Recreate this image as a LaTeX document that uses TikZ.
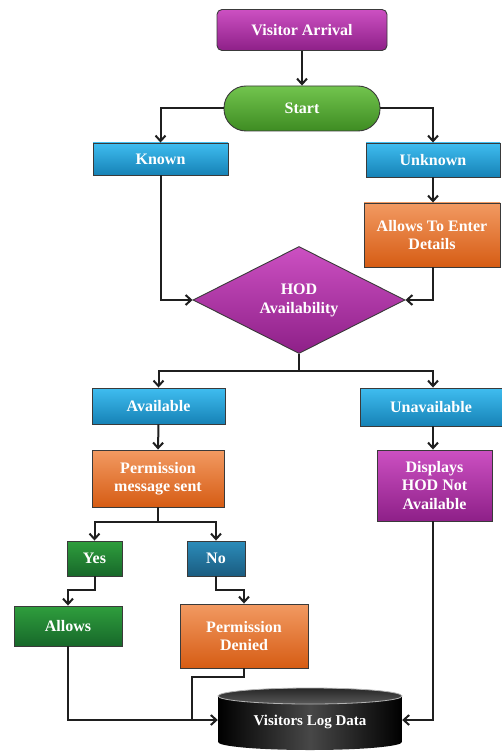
\documentclass[tikz,border=0pt]{standalone}
\usepackage{fontspec}
\setmainfont{Liberation Serif}
\usetikzlibrary{shapes.geometric,arrows.meta}
\definecolor{pTop}{HTML}{CC50C2}\definecolor{pBot}{HTML}{8E2088}
\definecolor{gTop}{HTML}{72C44E}\definecolor{gBot}{HTML}{3E8C22}
\definecolor{bTop}{HTML}{3FBDF0}\definecolor{bBot}{HTML}{1682B6}
\definecolor{oTop}{HTML}{F29A62}\definecolor{oBot}{HTML}{D65C14}
\definecolor{dgTop}{HTML}{2F9E3D}\definecolor{dgBot}{HTML}{17682A}
\definecolor{dbTop}{HTML}{2C8CBA}\definecolor{dbBot}{HTML}{1A5C80}
\definecolor{edge}{HTML}{3A3A3A}
\tikzset{
  box/.style={draw=edge, line width=0.9pt, text=white, align=center, inner sep=0pt,
    font=\fontsize{16}{18.5}\selectfont\bfseries},
  purplebox/.style={box, top color=pTop, bottom color=pBot},
  greenbox/.style={box, top color=gTop, bottom color=gBot},
  bluebox/.style={box, top color=bTop, bottom color=bBot},
  orangebox/.style={box, top color=oTop, bottom color=oBot},
  dgreenbox/.style={box, top color=dgTop, bottom color=dgBot},
  dbluebox/.style={box, top color=dbTop, bottom color=dbBot},
  link/.style={draw=black!88, line width=2pt},
  arr/.style={link, -{Straight Barb[length=5.5pt,width=10pt,line width=2pt]}},
}
\begin{document}
\begin{tikzpicture}[x=1pt,y=-1pt]
\useasboundingbox (0,0) rectangle (501,751);
% nodes
\node[purplebox, rounded corners=5pt, minimum width=170, minimum height=41] (va) at (302,30) {Visitor Arrival};
\node[greenbox, rounded corners=22pt, minimum width=156, minimum height=45] (start) at (302,108.5) {Start};
\node[bluebox, minimum width=135, minimum height=32] (known) at (160.5,159) {Known};
\node[bluebox, minimum width=134, minimum height=34] (unknown) at (433,160) {Unknown};
\node[orangebox, minimum width=136, minimum height=64] (enter) at (432,235) {Allows To Enter\\Details};
\node[diamond, draw=edge, line width=0.9pt, top color=pTop, bottom color=pBot, minimum width=212, minimum height=107, inner sep=0pt] (hod) at (299,300) {};
\node[text=white, align=center, font=\fontsize{16}{19}\selectfont\bfseries] (hodtext) at (299,300) {HOD\\Availability};
\node[bluebox, minimum width=133, minimum height=36] (avail) at (158.5,406) {Available};
\node[bluebox, minimum width=142, minimum height=38] (unavail) at (431,407) {Unavailable};
\node[orangebox, minimum width=132, minimum height=57] (pms) at (158,478.5) {Permission\\message sent};
\node[purplebox, minimum width=115, minimum height=71] (disp) at (434.5,485.5) {Displays\\HOD Not\\Available};
\node[dgreenbox, minimum width=55, minimum height=35] (yes) at (94.5,558.5) {Yes};
\node[dbluebox, minimum width=58, minimum height=35] (no) at (216,558.5) {No};
\node[dgreenbox, minimum width=108, minimum height=40] (allows) at (68,626) {Allows};
\node[orangebox, minimum width=128, minimum height=64] (denied) at (244,636) {Permission\\Denied};
% database cylinder
\shade[left color=black, right color=black, middle color=black!72]
  (218,696) -- (218,742) arc[start angle=180, end angle=0, x radius=92, y radius=8]
  -- (402,696) -- cycle;
\shade[top color=black!85, bottom color=black!65, draw=black!30, line width=0.8pt]
  (310,696) ellipse[x radius=92, y radius=8];
\node[minimum width=184, minimum height=40, inner sep=0pt, text=white,
  font=\fontsize{15}{18}\selectfont\bfseries] (db) at (310,722) {Visitors Log Data};
% connectors
\coordinate (j1) at (299,371);
\coordinate (j2) at (158,522);
\coordinate (m) at (192,720);
\draw[arr] (va) -- (start);
\draw[arr] (start.west) -| (known.north);
\draw[arr] (start.east) -| (unknown.north);
\draw[arr] (unknown.south) -- (unknown.south |- enter.north);
\draw[arr] (known.south) |- (hod.west);
\draw[arr] (unknown.south |- enter.south) |- (hod.east);
\draw[link] (hod.south) -- (j1);
\draw[arr] (j1) -| (avail.north);
\draw[arr] (j1) -| (unknown.south |- unavail.north);
\draw[arr] (avail.south) -- (pms.north);
\draw[arr] (unknown.south |- unavail.south) -- (unknown.south |- disp.north);
\draw[link] (pms.south) -- (j2);
\draw[arr] (j2) -| (yes.north);
\draw[arr] (j2) -| (no.north);
\draw[arr] (yes.south) -- ++(0,14) -| (allows.north);
\draw[arr] (no.south) -- ++(0,14) -| (denied.north);
\draw[arr] (allows.south) |- (db.west |- m);
\draw[link] (denied.south) -- ++(0,9) -| (m);
\draw[arr] (unknown.south |- disp.south) |- (db.east |- m);
\end{tikzpicture}
\end{document}
